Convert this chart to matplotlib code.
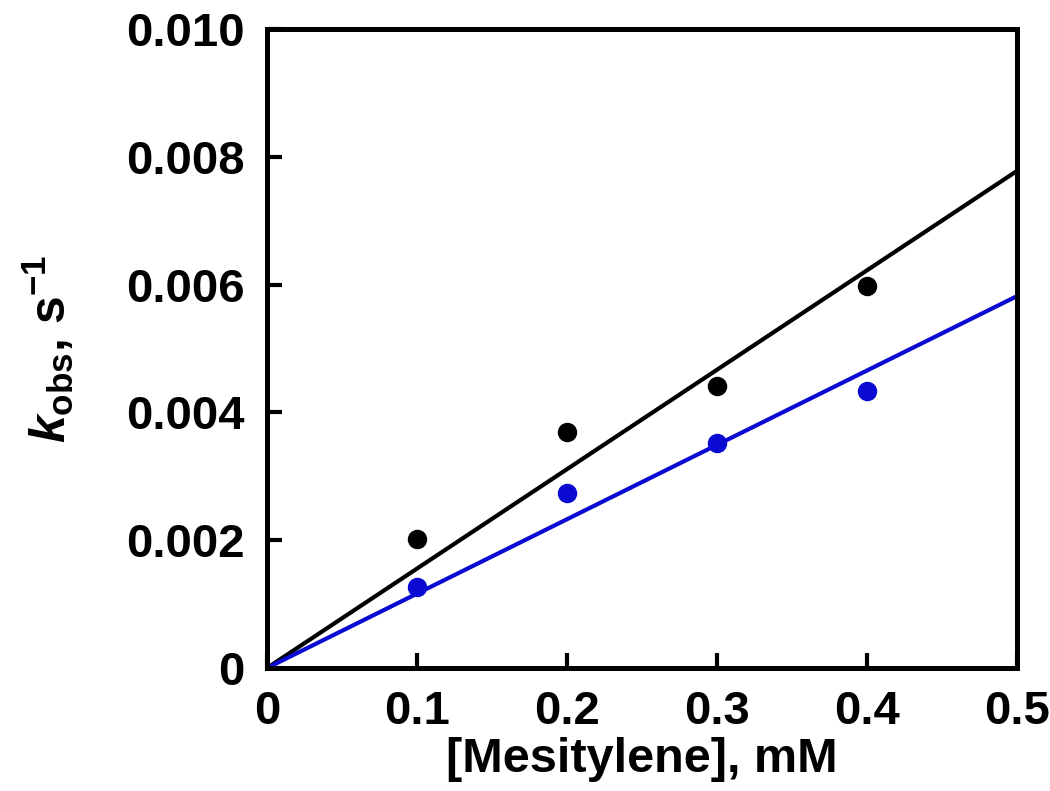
import matplotlib
matplotlib.use('Agg')
from matplotlib import pyplot as plt
import numpy as np

# data
conc = [0.1, 0.2, 0.3, 0.4]
k_black = [0.00202, 0.00369, 0.00441, 0.00598]
k_blue = [0.00127, 0.00274, 0.00352, 0.00433]
slope_black = 0.01556
slope_blue = 0.01164
x_fit = [0.0, 0.5]

matplotlib.rcParams['font.family'] = 'Liberation Sans'
matplotlib.rcParams['font.weight'] = 'bold'
matplotlib.rcParams['axes.labelweight'] = 'bold'
matplotlib.rcParams['mathtext.fontset'] = 'custom'
matplotlib.rcParams['mathtext.rm'] = 'Liberation Sans:bold'
matplotlib.rcParams['mathtext.it'] = 'Liberation Sans:italic:bold'
matplotlib.rcParams['mathtext.bf'] = 'Liberation Sans:bold'
matplotlib.rcParams['mathtext.default'] = 'bf'

fig = plt.figure(figsize=(10.5, 7.91), dpi=100)
ax = fig.add_axes([0.2543, 0.1555, 0.7143, 0.8078])

ax.plot(x_fit, [slope_black * v for v in x_fit], color='black', lw=3, zorder=2)
ax.plot(x_fit, [slope_blue * v for v in x_fit], color='#0a0ad2', lw=3, zorder=2)
ax.plot(conc, k_black, 'o', color='black', ms=13, zorder=3)
ax.plot(conc, k_blue, 'o', color='#0a0ad2', ms=13, zorder=3)

ax.set_xlim(0, 0.5)
ax.set_ylim(0, 0.010)
ax.set_xticks([0, 0.1, 0.2, 0.3, 0.4, 0.5])
ax.set_xticklabels(['0', '0.1', '0.2', '0.3', '0.4', '0.5'])
ax.set_yticks([0, 0.002, 0.004, 0.006, 0.008, 0.010])
ax.set_yticklabels(['0', '0.002', '0.004', '0.006', '0.008', '0.010'])

for s in ax.spines.values():
    s.set_linewidth(3.6)
ax.tick_params(direction='in', length=11, width=3, labelsize=34, pad=16)

ax.set_xlabel('[Mesitylene], mM', fontsize=35, labelpad=2)
ax.set_ylabel(r'$\mathit{k}_{\rm obs}$, s$^{-1}$', fontsize=36, labelpad=36)

fig.savefig('out.png', dpi=100)
